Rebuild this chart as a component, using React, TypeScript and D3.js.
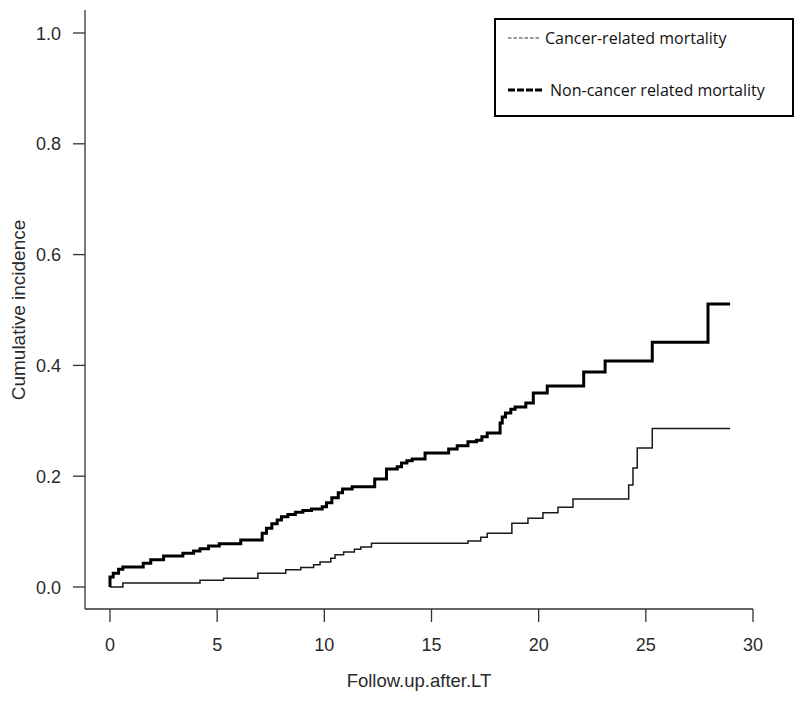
import React from 'react';
import * as d3 from 'd3';

const xTicks = [0, 5, 10, 15, 20, 25, 30];
const yTicks = [0, 0.2, 0.4, 0.6, 0.8, 1.0];
const xTitle = 'Follow.up.after.LT';
const yTitle = 'Cumulative incidence';
const legendLabels = ['Cancer-related mortality', 'Non-cancer related mortality'];

// Cancer-related mortality (thin step curve)
const cancerTime = [0, 0.6, 4.2, 5.3, 6.9, 8.2, 8.9, 9.5, 9.8, 10.3, 10.5, 10.9, 11.4, 11.7, 12.2, 16.7, 17.3, 17.6, 18.75, 19.5, 20.2, 20.9, 21.6, 24.2, 24.4, 24.6, 25.3];
const cancerValue = [0, 0.007, 0.012, 0.016, 0.025, 0.031, 0.035, 0.04, 0.045, 0.052, 0.058, 0.063, 0.068, 0.072, 0.079, 0.083, 0.09, 0.097, 0.115, 0.124, 0.134, 0.144, 0.159, 0.184, 0.215, 0.251, 0.286];

// Non-cancer related mortality (thick step curve)
const nonCancerTime = [0, 0, 0.15, 0.4, 0.6, 1.55, 1.9, 2.5, 3.4, 3.9, 4.2, 4.6, 5.1, 6.1, 7.1, 7.3, 7.55, 7.8, 8.0, 8.3, 8.65, 9.0, 9.4, 9.9, 10.1, 10.35, 10.65, 10.85, 11.3, 12.35, 12.9, 13.4, 13.6, 13.85, 14.1, 14.7, 15.8, 16.2, 16.7, 17.1, 17.35, 17.6, 18.2, 18.3, 18.45, 18.7, 18.9, 19.4, 19.75, 20.4, 22.1, 23.1, 25.3, 27.9];
const nonCancerValue = [0, 0.018, 0.025, 0.032, 0.036, 0.043, 0.049, 0.056, 0.061, 0.065, 0.069, 0.074, 0.078, 0.085, 0.097, 0.106, 0.114, 0.121, 0.127, 0.131, 0.135, 0.138, 0.141, 0.145, 0.152, 0.161, 0.17, 0.177, 0.181, 0.195, 0.213, 0.217, 0.224, 0.228, 0.231, 0.242, 0.249, 0.255, 0.262, 0.265, 0.271, 0.278, 0.296, 0.307, 0.314, 0.321, 0.325, 0.332, 0.35, 0.363, 0.388, 0.408, 0.442, 0.511];

const endTime = 28.93;

type Pt = [number, number];

function buildPoints(times: number[], values: number[]): Pt[] {
  const pts: Pt[] = times.map((t, i) => [t, values[i]] as Pt);
  pts.push([endTime, values[values.length - 1]]);
  return pts;
}

export default function App() {
  const width = 800;
  const height = 702;
  const x = d3.scaleLinear().domain([0, 30]).range([110, 753]);
  const y = d3.scaleLinear().domain([0, 1]).range([587, 33]);

  const line = d3
    .line<Pt>()
    .x((d) => x(d[0]))
    .y((d) => y(d[1]))
    .curve(d3.curveStepAfter);

  const cancerPath = line(buildPoints(cancerTime, cancerValue)) || '';
  const nonCancerPath = line(buildPoints(nonCancerTime, nonCancerValue)) || '';

  const axisColor = '#333';
  const textColor = '#2a2a2a';
  const font = 'Liberation Sans, Arial, sans-serif';
  const legendFont = 'Open Sans, Noto Sans, sans-serif';

  const left = 85;
  const bottom = 609;
  const top = 10;

  return (
    <svg
      width={width}
      height={height}
      style={{ position: 'absolute', left: 0, top: 0, background: '#fff' }}
    >
      <rect x={0} y={0} width={width} height={height} fill="#fff" />
      {/* axes L */}
      <line x1={left} x2={left} y1={top} y2={bottom} stroke={axisColor} strokeWidth={1.3} />
      <line x1={left} x2={x(30)} y1={bottom} y2={bottom} stroke={axisColor} strokeWidth={1.3} />

      {yTicks.map((v) => (
        <g key={'y' + v}>
          <line x1={left - 12} x2={left} y1={y(v)} y2={y(v)} stroke={axisColor} strokeWidth={1.3} />
          <text
            x={61}
            y={y(v) + 6.5}
            textAnchor="end"
            fontFamily={font}
            fontSize={18}
            fill={textColor}
          >
            {v.toFixed(1)}
          </text>
        </g>
      ))}

      {xTicks.map((t) => (
        <g key={'x' + t}>
          <line x1={x(t)} x2={x(t)} y1={bottom} y2={bottom + 13} stroke={axisColor} strokeWidth={1.3} />
          <text
            x={x(t)}
            y={651}
            textAnchor="middle"
            fontFamily={font}
            fontSize={18}
            fill={textColor}
          >
            {t}
          </text>
        </g>
      ))}

      <text x={419} y={687} textAnchor="middle" fontFamily={font} fontSize={18.5} fill={textColor}>
        {xTitle}
      </text>
      <text
        transform={`translate(25, 310) rotate(-90)`}
        textAnchor="middle"
        fontFamily={font}
        fontSize={19}
        fill={textColor}
      >
        {yTitle}
      </text>

      {/* curves */}
      <path d={cancerPath} fill="none" stroke="#1a1a1a" strokeWidth={1.5} />
      <path d={nonCancerPath} fill="none" stroke="#000" strokeWidth={3} />

      {/* legend */}
      <rect x={495} y={19} width={298} height={97} fill="#fff" stroke="#000" strokeWidth={2} />
      <line x1={508} x2={540} y1={38} y2={38} stroke="#333" strokeWidth={1} strokeDasharray="3.5,2" />
      <text x={545} y={43.5} fontFamily={legendFont} fontSize={16} fill="#111">
        {legendLabels[0]}
      </text>
      <line x1={508} x2={543} y1={90} y2={90} stroke="#000" strokeWidth={3} strokeDasharray="7,2" />
      <text x={550} y={95.5} fontFamily={legendFont} fontSize={16} fill="#111">
        {legendLabels[1]}
      </text>
    </svg>
  );
}
